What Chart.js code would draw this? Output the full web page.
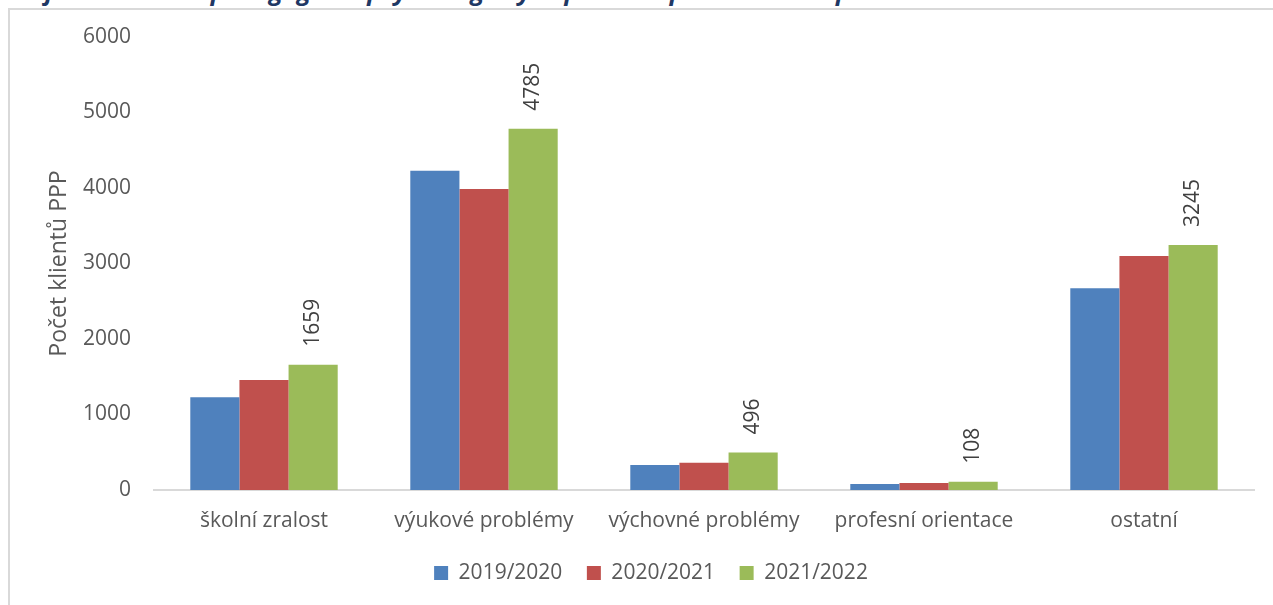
<!DOCTYPE html>
<html lang="cs">
<head>
<meta charset="utf-8">
<title>Klienti PPP</title>
<script src="https://cdn.jsdelivr.net/npm/chart.js@4/dist/chart.umd.min.js"></script>
<style>
    html, body { margin: 0; padding: 0; background: #fff; overflow: hidden; }
    #wrap { position: relative; width: 1273px; height: 605px; overflow: hidden; }
    #frame {
        position: absolute; left: 8px; top: 8px; right: -2px; bottom: -2px;
        border-left: 2px solid #d9d9d9; border-top: 2px solid #d9d9d9;
    }
    #caption {
        position: absolute; left: 2px; top: -22px; white-space: nowrap;
        font: italic bold 25px/25px "Open Sans", sans-serif; color: #1f3864;
    }
    canvas { position: absolute; left: 0; top: 0; }
</style>
</head>
<body>
<div id="wrap">
    <div id="frame"></div>
    <div id="caption">Graf č. 10: Klienti pedagogicko-psychologických poraden podle důvodu příchodu</div>
    <canvas id="chart" width="1273" height="605"></canvas>
</div>
<script>
// kategorie a hodnoty
const categories = ['školní zralost', 'výukové problémy', 'výchovné problémy', 'profesní orientace', 'ostatní'];
const seriesNames = ['2019/2020', '2020/2021', '2021/2022'];
const values1920 = [1228, 4230, 331, 79, 2671];
const values2021 = [1457, 3987, 362, 93, 3099];
const values2122 = [1659, 4785, 496, 108, 3245];
const yTicks = [0, 1000, 2000, 3000, 4000, 5000, 6000];

const colors = ['#4f81bd', '#c0504d', '#9bbb59'];
const textColor = '#595959';
const fontFamily = '"Open Sans", sans-serif';

// popisky hodnot jen u posledni rady, otocene o 90 stupnu
const valueLabels = {
    id: 'valueLabels',
    afterDatasetsDraw(chart) {
        const ctx = chart.ctx;
        const meta = chart.getDatasetMeta(2);
        ctx.save();
        ctx.font = '21px ' + fontFamily;
        ctx.fillStyle = '#404040';
        ctx.textAlign = 'left';
        ctx.textBaseline = 'middle';
        meta.data.forEach((bar, i) => {
            ctx.save();
            ctx.translate(bar.x, bar.y - 18);
            ctx.rotate(-Math.PI / 2);
            ctx.fillText(String(values2122[i]), 0, 0);
            ctx.restore();
        });
        ctx.restore();
    }
};

new Chart(document.getElementById('chart'), {
    type: 'bar',
    data: {
        labels: categories,
        datasets: [values1920, values2021, values2122].map((vals, i) => ({
            label: seriesNames[i],
            data: vals,
            backgroundColor: colors[i],
            borderWidth: 0,
            barPercentage: 1,
            categoryPercentage: 0.67
        }))
    },
    options: {
        responsive: false,
        animation: false,
        // levy okraj posouva legendu do stredu jako v originalu
        layout: { padding: { top: 37, right: 19, bottom: 11.5, left: 48 } },
        plugins: {
            legend: {
                position: 'bottom',
                labels: {
                    boxWidth: 14,
                    boxHeight: 14,
                    padding: 24.5,
                    color: textColor,
                    font: { family: fontFamily, size: 21 }
                }
            },
            tooltip: { enabled: false }
        },
        scales: {
            x: {
                grid: { display: false, drawTicks: false },
                border: { display: true, color: '#d9d9d9', width: 2 },
                ticks: {
                    padding: 18,
                    color: textColor,
                    font: { family: fontFamily, size: 21 },
                    maxRotation: 0
                },
                afterFit(scale) { scale.height = 48; }
            },
            y: {
                min: 0,
                max: 6000,
                afterBuildTicks(scale) { scale.ticks = yTicks.map(v => ({ value: v })); },
                grid: { display: false, drawTicks: false },
                border: { display: false },
                ticks: {
                    padding: 23,
                    color: textColor,
                    font: { family: fontFamily, size: 21 },
                    callback: v => String(v)
                },
                title: {
                    display: true,
                    text: 'Počet klientů PPP',
                    color: textColor,
                    font: { family: fontFamily, size: 23, lineHeight: 1 },
                    padding: { top: 0, bottom: 0 }
                },
                afterFit(scale) { scale.width = 106; }
            }
        }
    },
    plugins: [valueLabels]
});
</script>
</body>
</html>
